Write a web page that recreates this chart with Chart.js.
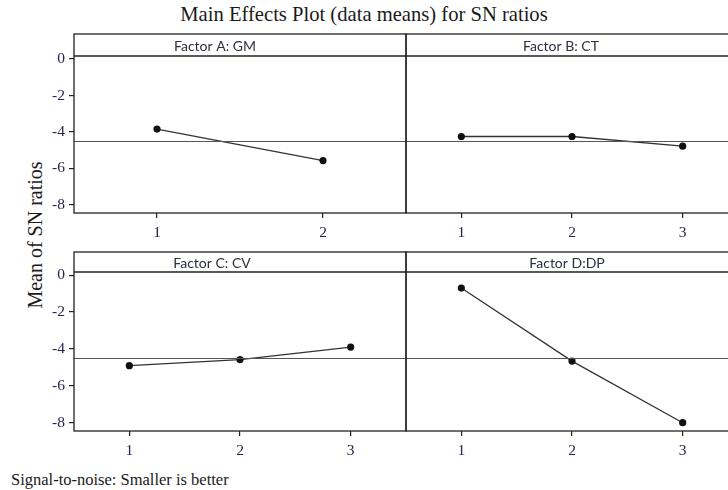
<!DOCTYPE html>
<html>
<head>
<meta charset="utf-8">
<script src="https://cdn.jsdelivr.net/npm/chart.js@4.4.1/dist/chart.umd.min.js"></script>
<style>
  html, body { margin: 0; padding: 0; background: #fff; overflow: hidden; width: 728px; height: 490px; }
  #wrap { position: relative; width: 760px; height: 490px; }
  canvas { position: absolute; }
  .txt { position: absolute; font-family: "Liberation Serif", "Times New Roman", serif; color: #1a1a1a; white-space: nowrap; line-height: 1; }
</style>
</head>
<body>
<div id="wrap">
  <div class="txt" id="title" style="font-size:20.6px; left:0; width:728px; text-align:center; top:4px;">Main Effects Plot (data means) for SN ratios</div>
  <div class="txt" id="ylab" style="font-size:20px; left:35px; top:235px; transform: translate(-50%,-50%) rotate(-90deg);">Mean of SN ratios</div>
  <div class="txt" id="foot" style="font-size:16.5px; left:11px; top:472px;">Signal-to-noise: Smaller is better</div>
  <canvas id="cA" style="left:0px; top:30px;" width="410" height="217"></canvas>
  <canvas id="cB" style="left:402px; top:30px;" width="343" height="217"></canvas>
  <canvas id="cC" style="left:0px; top:248px;" width="410" height="217"></canvas>
  <canvas id="cD" style="left:402px; top:248px;" width="343" height="217"></canvas>
</div>
<script>
// ---- data ----
const levelsA = ['1', '2'];
const levelsB = ['1', '2', '3'];
const levelsC = ['1', '2', '3'];
const levelsD = ['1', '2', '3'];
const snA = [-3.84, -5.57];
const snB = [-4.25, -4.25, -4.78];
const snC = [-4.91, -4.58, -3.90];
const snD = [-0.70, -4.66, -8.00];
const grandMean = -4.47;
const yTicks = [0, -2, -4, -6, -8];
const factorNames = ['Factor A: GM', 'Factor B: CT', 'Factor C: CV', 'Factor D:DP'];

const yMin = -8.45, yMax = 0.17;

const panelPlugin = {
  id: 'panel',
  afterDraw(chart, args, opts) {
    const ctx = chart.ctx;
    const a = chart.chartArea;
    const top = a.top - opts.header;
    ctx.save();
    // reference line
    const y = chart.scales.y.getPixelForValue(opts.mean);
    ctx.strokeStyle = '#555';
    ctx.lineWidth = 1;
    ctx.beginPath();
    ctx.moveTo(a.left, Math.round(y) + 0.5);
    ctx.lineTo(a.right, Math.round(y) + 0.5);
    ctx.stroke();
    // frame
    ctx.strokeStyle = '#222';
    ctx.lineWidth = 1.3;
    ctx.strokeRect(a.left, top, a.right - a.left, a.bottom - top);
    ctx.beginPath();
    ctx.moveTo(a.left, a.top);
    ctx.lineTo(a.right, a.top);
    ctx.stroke();
    // header text
    ctx.fillStyle = '#2b3040';
    ctx.font = '14px Lato, "Open Sans", sans-serif';
    ctx.textAlign = 'center';
    ctx.textBaseline = 'middle';
    ctx.fillText(opts.label, a.left + opts.labelX, top + opts.header / 2 + 1);
    ctx.restore();
  }
};

function makePanel(id, labels, values, name, showY, header, labelX, padLeft, padRight) {
  return new Chart(document.getElementById(id), {
    type: 'line',
    data: {
      labels: labels,
      datasets: [{
        data: values,
        borderColor: '#333',
        borderWidth: 1.3,
        pointRadius: 3.6,
        pointBackgroundColor: '#111',
        pointBorderColor: '#111',
        pointBorderWidth: 0,
        tension: 0
      }]
    },
    options: {
      responsive: false,
      animation: false,
      layout: { padding: { top: 4 + header, left: padLeft, right: padRight, bottom: 0 } },
      plugins: {
        legend: { display: false },
        tooltip: { enabled: false },
        panel: { mean: grandMean, label: name, header: header, labelX: labelX }
      },
      scales: {
        x: {
          type: 'category',
          offset: true,
          grid: { display: true, drawOnChartArea: false, drawTicks: true, tickLength: 5, color: '#222', lineWidth: 1.2 },
          border: { display: false },
          ticks: { color: '#23264a', font: { family: '"Liberation Serif", serif', size: 15.5 }, padding: 6, maxRotation: 0 },
          afterFit(s) { s.height = 34; }
        },
        y: {
          display: true,
          min: yMin,
          max: yMax,
          afterBuildTicks(s) { s.ticks = yTicks.map(v => ({ value: v })); },
          grid: { display: showY, drawOnChartArea: false, drawTicks: showY, tickLength: 5, color: '#222', lineWidth: 1.2 },
          border: { display: false },
          ticks: { display: showY, color: '#23264a', font: { family: '"Liberation Serif", serif', size: 15.5 }, padding: 4 },
          afterFit(s) { s.width = showY ? 74 : 0; }
        }
      }
    },
    plugins: [panelPlugin]
  });
}

makePanel('cA', levelsA, snA, factorNames[0], true, 22, 141, 0, 2);
makePanel('cB', levelsB, snB, factorNames[1], false, 22, 155, 1, 7);
makePanel('cC', levelsC, snC, factorNames[2], true, 20, 138, 0, 2);
makePanel('cD', levelsD, snD, factorNames[3], false, 20, 161, 1, 7);
</script>
</body>
</html>
